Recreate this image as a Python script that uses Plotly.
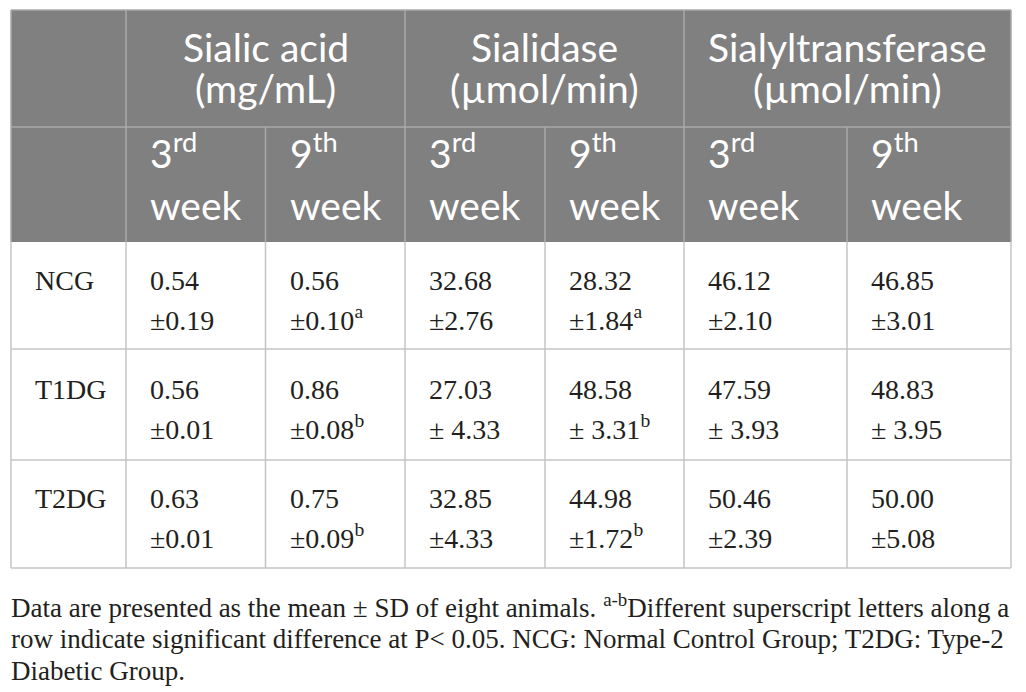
import plotly.graph_objects as go

groups = ["NCG", "T1DG", "T2DG"]
measures = ["Sialic acid", "Sialidase", "Sialyltransferase"]
units = ["(mg/mL)", "(µmol/min)", "(µmol/min)"]
weeks = ["3<sup>rd</sup>", "9<sup>th</sup>"]

means = [
    [0.54, 0.56, 32.68, 28.32, 46.12, 46.85],
    [0.56, 0.86, 27.03, 48.58, 47.59, 48.83],
    [0.63, 0.75, 32.85, 44.98, 50.46, 50.00],
]
sds = [
    [0.19, 0.10, 2.76, 1.84, 2.10, 3.01],
    [0.01, 0.08, 4.33, 3.31, 3.93, 3.95],
    [0.01, 0.09, 4.33, 1.72, 2.39, 5.08],
]
letters = [
    ["", "a", "", "a", "", ""],
    ["", "b", "", "b", "", ""],
    ["", "b", "", "b", "", ""],
]
# the source writes "± 4.33" with a space in some cells
spaced = [
    [0, 0, 0, 0, 0, 0],
    [0, 0, 1, 1, 1, 1],
    [0, 0, 0, 0, 0, 0],
]

footnote = [
    "Data are presented as the mean ± SD of eight animals. <sup>a-b</sup>Different superscript letters along a",
    "row indicate significant difference at P< 0.05. NCG: Normal Control Group; T2DG: Type-2",
    "Diabetic Group.",
]

# layout in pixels
col_x = [11, 126, 265.5, 405, 545, 684, 847, 1011]
row_y = [10, 127, 242, 349, 460, 568]
pad = 22

HEAD_FONT = "Lato, 'Open Sans', sans-serif"
BODY_FONT = "'Liberation Serif', 'Times New Roman', serif"
HEAD_SIZE = 39
BODY_SIZE = 28
NOTE_SIZE = 27
HEAD_BG = "#808080"
HEAD_LINE = "#a8a8a8"
BODY_LINE = "#c4c4c4"
TEXT = "#231f20"

fig = go.Figure()
shapes = []
annotations = []


def line(x0, y0, x1, y1, color):
    shapes.append(dict(type="line", xref="x", yref="y", x0=x0, y0=y0, x1=x1, y1=y1,
                       line=dict(color=color, width=1.5)))


def text(x, baseline, s, size, family, color, anchor="left", desc=0.22):
    annotations.append(dict(
        x=x, y=baseline + desc * size + 2, xref="x", yref="y", text=s, showarrow=False,
        xanchor=anchor, yanchor="bottom", align=anchor,
        font=dict(family=family, size=size, color=color),
    ))


# header background
shapes.append(dict(type="rect", xref="x", yref="y", x0=col_x[0], x1=col_x[-1],
                   y0=row_y[0], y1=row_y[2], fillcolor=HEAD_BG, line=dict(width=0), layer="below"))

# header grid
line(col_x[0], row_y[0], col_x[-1], row_y[0], HEAD_LINE)
line(col_x[0], row_y[1], col_x[-1], row_y[1], HEAD_LINE)
for i in [0, 1, 3, 5, 7]:
    line(col_x[i], row_y[0], col_x[i], row_y[2], HEAD_LINE)
for i in [2, 4, 6]:
    line(col_x[i], row_y[1], col_x[i], row_y[2], HEAD_LINE)

# body grid
for y in row_y[3:]:
    line(col_x[0], y, col_x[-1], y, BODY_LINE)
for x in col_x:
    line(x, row_y[2], x, row_y[-1], BODY_LINE)

# header row 1: measure names spanning two columns
for k, (m, u) in enumerate(zip(measures, units)):
    cx = (col_x[1 + 2 * k] + col_x[3 + 2 * k]) / 2
    text(cx, 62, m, HEAD_SIZE, HEAD_FONT, "white", anchor="center", desc=0.2)
    text(cx, 103, u, HEAD_SIZE, HEAD_FONT, "white", anchor="center", desc=0.2)

# header row 2: weeks
for j in range(6):
    x = col_x[1 + j] + pad
    text(x, 168, weeks[j % 2], HEAD_SIZE, HEAD_FONT, "white", desc=0.2)
    text(x, 220, "week", HEAD_SIZE, HEAD_FONT, "white", desc=0.2)

# body rows
for r, g in enumerate(groups):
    mid = (row_y[2 + r] + row_y[3 + r]) / 2
    b1, b2 = mid - 6, mid + 34
    text(col_x[0] + pad, b1, g, BODY_SIZE, BODY_FONT, TEXT)
    for j in range(6):
        x = col_x[1 + j] + pad
        sd = ("± " if spaced[r][j] else "±") + f"{sds[r][j]:.2f}"
        if letters[r][j]:
            sd += f"<sup>{letters[r][j]}</sup>"
        text(x, b1, f"{means[r][j]:.2f}", BODY_SIZE, BODY_FONT, TEXT)
        text(x, b2, sd, BODY_SIZE, BODY_FONT, TEXT)

# footnote
for i, s in enumerate(footnote):
    text(col_x[0] - 2, 620 + 31.5 * i, s, NOTE_SIZE, BODY_FONT, TEXT, desc=0.1)

fig.update_layout(
    width=1026, height=692,
    margin=dict(l=0, r=0, t=0, b=0),
    paper_bgcolor="white", plot_bgcolor="white",
    xaxis=dict(range=[0, 1026], visible=False, fixedrange=True),
    yaxis=dict(range=[692, 0], visible=False, fixedrange=True),
    shapes=shapes, annotations=annotations, showlegend=False,
)
fig.write_html("out.html", config={"displayModeBar": False},
               post_script="document.body.style.margin='0px';document.body.style.overflow='hidden';")
